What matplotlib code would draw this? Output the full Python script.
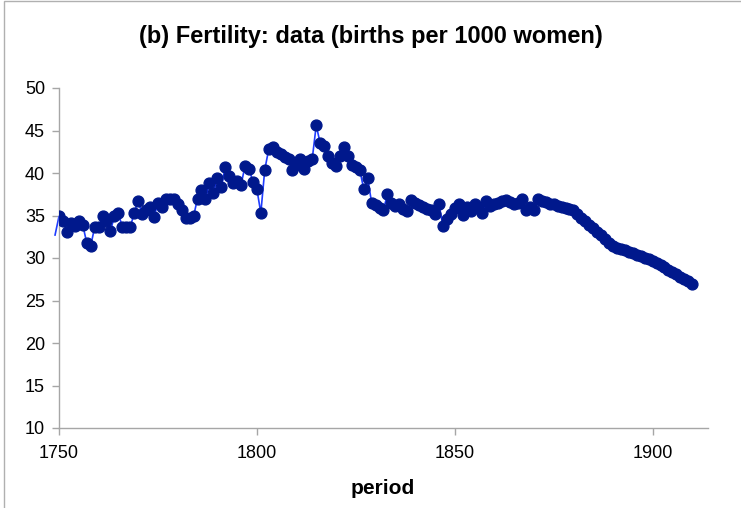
import matplotlib
matplotlib.use("Agg")
import matplotlib.pyplot as plt
from matplotlib.patches import Rectangle

# ── DATA ──────────────────────────────────────────────────────────────────────
years = list(range(1749, 1911))

births = [
    32.7,                                                        # 1749
    34.9, 34.4, 33.1, 34.1, 33.8, 34.4, 33.9, 31.8, 31.4, 33.6,  # 1750-1759
    33.6, 34.9, 34.4, 33.2, 34.9, 35.3, 33.6, 33.6, 33.6, 35.3,  # 1760-1769
    36.7, 35.2, 35.6, 36.0, 34.8, 36.5, 36.0, 37.0, 37.0, 37.0,  # 1770-1779
    36.4, 35.6, 34.7, 34.7, 34.9, 37.0, 38.0, 36.9, 38.8, 37.7,  # 1780-1789
    39.4, 38.3, 40.7, 39.6, 38.8, 39.1, 38.6, 40.8, 40.5, 39.0,  # 1790-1799
    38.1, 35.3, 40.4, 42.8, 43.1, 42.5, 42.2, 41.9, 41.6, 40.3,  # 1800-1809
    41.0, 41.7, 40.5, 41.4, 41.7, 45.6, 43.5, 43.2, 42.0, 41.2,  # 1810-1819
    40.8, 42.0, 43.1, 42.0, 41.0, 40.7, 40.4, 38.1, 39.4, 36.5,  # 1820-1829
    36.2, 35.9, 35.7, 37.5, 36.5, 36.1, 36.3, 35.8, 35.5, 36.8,  # 1830-1839
    36.5, 36.2, 36.0, 35.8, 35.6, 35.2, 36.4, 33.8, 34.6, 35.2,  # 1840-1849
    35.9, 36.3, 35.1, 36.0, 35.5, 36.3, 36.0, 35.3, 36.7, 36.1,  # 1850-1859
    36.4, 36.5, 36.7, 36.8, 36.6, 36.4, 36.5, 37.0, 35.6, 36.0,  # 1860-1869
    35.7, 36.9, 36.7, 36.6, 36.4, 36.3, 36.1, 36.0, 35.9, 35.8,  # 1870-1879
    35.6, 35.2, 34.7, 34.3, 33.9, 33.5, 33.1, 32.7, 32.2, 31.8,  # 1880-1889
    31.4, 31.2, 31.1, 30.9, 30.7, 30.6, 30.4, 30.2, 30.0, 29.9,  # 1890-1899
    29.7, 29.4, 29.2, 28.9, 28.6, 28.4, 28.1, 27.8, 27.5, 27.3,  # 1900-1909
    27.0,                                                        # 1910
]

x_ticks = [1750, 1800, 1850, 1900]
y_ticks = [10, 15, 20, 25, 30, 35, 40, 45, 50]

TITLE  = "(b) Fertility: data (births per 1000 women)"
XLABEL = "period"

# ── STYLE ─────────────────────────────────────────────────────────────────────
plt.rcParams["font.family"] = ["Liberation Sans", "DejaVu Sans"]
AXIS_GREY   = "#a6a6a6"
LINE_BLUE   = "#1f3cff"
MARKER_NAVY = "#00188c"

# ── PLOT ──────────────────────────────────────────────────────────────────────
fig = plt.figure(figsize=(7.41, 5.08), dpi=100)
ax = fig.add_axes([59 / 741, 1 - 428 / 508, (708 - 59) / 741, (428 - 88) / 508])

# line runs from the 1749 value (sticks out past the axis), markers from 1750
ax.plot(years, births, color=LINE_BLUE, lw=1.2, clip_on=False, zorder=2)
ax.plot(years[1:], births[1:], ls="none", marker="o", ms=7.8,
        mfc=MARKER_NAVY, mec=MARKER_NAVY, zorder=3)

ax.set_xlim(1750, 1914)
ax.set_ylim(10, 50)
ax.set_xticks(x_ticks)
ax.set_yticks(y_ticks)

for side in ("top", "right"):
    ax.spines[side].set_visible(False)
for side in ("left", "bottom"):
    ax.spines[side].set_color(AXIS_GREY)
    ax.spines[side].set_linewidth(1.0)

ax.tick_params(axis="both", direction="out", length=5, width=1.0,
               color=AXIS_GREY, labelsize=13, labelcolor="black")
ax.tick_params(axis="x", pad=7)
ax.tick_params(axis="y", pad=5)

fig.text(0.5, 1 - 37 / 508, TITLE, ha="center", va="center",
         fontsize=17, fontweight="bold")
fig.text(383 / 741, 1 - 488 / 508, XLABEL, ha="center", va="center",
         fontsize=15, fontweight="bold")

# thin grey frame around the chart (visible on top and left)
fig.patches.append(Rectangle((4 / 741, -0.1), 1.2, 1 - 1.5 / 508 + 0.1,
                             transform=fig.transFigure, fill=False,
                             ec="#b0b0b0", lw=1.0))

fig.savefig("out.png", dpi=100)
